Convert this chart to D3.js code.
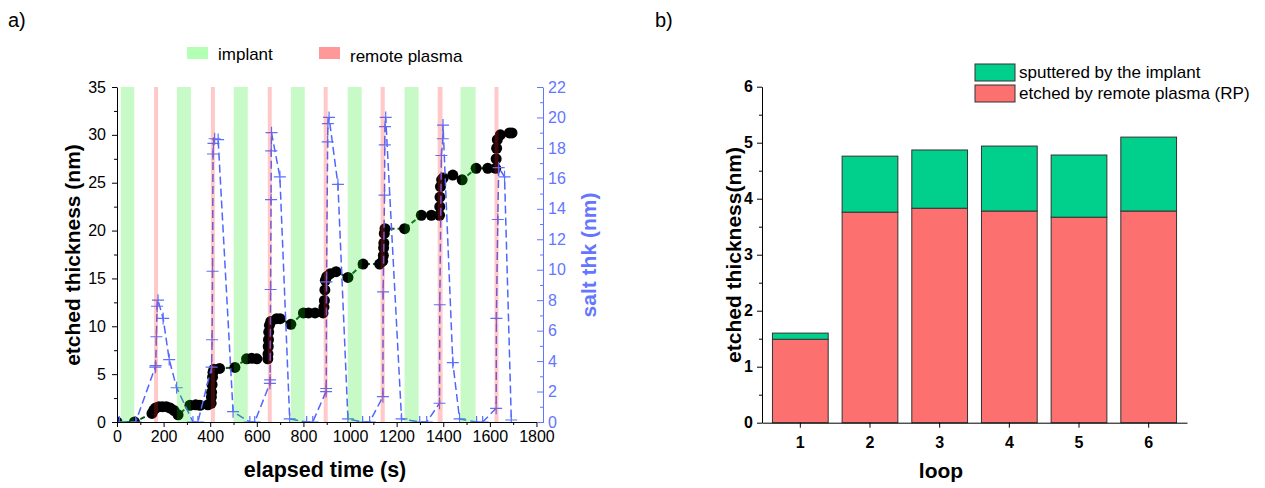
<!DOCTYPE html>
<html>
<head>
<meta charset="utf-8">
<script src="https://cdn.jsdelivr.net/npm/d3@7"></script>
<style>
  body { margin: 0; background: #fff; }
  svg { display: block; }
  text { font-family: Arial, "Liberation Sans", sans-serif; }
</style>
</head>
<body>
<div id="chart"></div>
<script>
// ---- panel a) data ----
const etchTime = [0, 75, 150, 158, 165, 180, 195, 212, 228, 245, 262,
  313, 338, 356, 390, 404, 405, 406, 408, 410, 412, 416, 440,
  506, 556, 578, 600, 647, 648, 649, 650, 651, 654, 660, 685, 700,
  746, 800, 822, 850, 884, 888, 890, 892, 894, 900, 915, 940,
  991, 1056, 1127, 1140, 1143, 1144, 1145, 1147, 1150,
  1234, 1306, 1349, 1384, 1385, 1386, 1388, 1393, 1400, 1441,
  1481, 1541, 1591, 1625, 1627, 1629, 1632, 1645, 1684, 1695];
const etchThk = [0, 0, 0.9, 1.25, 1.45, 1.6, 1.6, 1.6, 1.45, 1.2, 0.75,
  1.75, 1.8, 1.75, 1.8, 1.95, 2.6, 3.1, 3.9, 4.7, 5.2, 5.5, 5.6,
  5.7, 6.6, 6.65, 6.6, 6.6, 7.1, 7.9, 8.6, 9.4, 10.1, 10.5, 10.8, 10.8,
  10.2, 11.4, 11.4, 11.4, 11.4, 12.0, 12.7, 13.8, 14.8, 15.2, 15.5, 15.7,
  15.1, 16.5, 16.5, 16.8, 17.4, 18.2, 18.7, 19.7, 20.2,
  20.2, 21.6, 21.6, 21.6, 22.5, 23.5, 24.6, 25.3, 25.5, 25.8,
  25.3, 26.5, 26.5, 26.5, 27.5, 28.6, 29.5, 30.0, 30.2, 30.2];

const saltTime = [10, 80, 164, 166, 169, 172, 176, 198, 224, 256, 326, 347,
  406, 408, 410, 412, 414, 419, 434, 498, 570, 591,
  656, 657, 659, 661, 662, 663, 699, 741, 814, 840,
  897, 898, 899, 904, 905, 910, 948, 991, 1054, 1084,
  1141, 1142, 1148, 1149, 1150, 1153, 1221, 1299, 1329,
  1384, 1385, 1392, 1398, 1399, 1441, 1470, 1543, 1569,
  1627, 1628, 1634, 1638, 1663, 1692];
const saltThk = [0, 0, 3.6, 3.7, 5.6, 7.6, 8.0, 6.8, 4.1, 2.25, 0, 0,
  3.6, 5.4, 9.9, 17.6, 18.3, 18.6, 18.55, 0.68, 0, 0,
  2.54, 2.76, 8.7, 14.6, 17.8, 19.0, 16.1, 0.2, 0, 0,
  2.0, 2.2, 9.2, 18.4, 19.6, 20.0, 15.6, 0.2, 0, 0,
  1.66, 8.55, 14.9, 18.2, 19.4, 20.0, 0.2, 0, 0,
  1.23, 7.7, 17.5, 18.6, 19.5, 3.9, 0.2, 0, 0,
  0.9, 6.8, 13.3, 16.7, 16.1, 0.13];

const implantStart = [16, 257, 501, 746, 990, 1234, 1474];
const implantEnd   = [74, 317, 561, 806, 1050, 1294, 1539];
const plasmaStart  = [159, 403, 647, 887, 1131, 1376, 1620];
const plasmaEnd    = [176, 420, 664, 904, 1149, 1397, 1637];

const timeTicks = [0, 200, 400, 600, 800, 1000, 1200, 1400, 1600, 1800];
const thkTicks = [0, 5, 10, 15, 20, 25, 30, 35];
const saltTicks = [0, 2, 4, 6, 8, 10, 12, 14, 16, 18, 20, 22];

// ---- panel b) data ----
const loops = ["1", "2", "3", "4", "5", "6"];
const rpEtch = [1.49, 3.76, 3.83, 3.78, 3.67, 3.78];
const implantSputter = [0.11, 1.0, 1.04, 1.16, 1.11, 1.32];
const barTicks = [0, 1, 2, 3, 4, 5, 6];

const blue = "#6475ff";
const fmt = d3.format("d");

const svg = d3.select("#chart")
              .append("svg")
              .attr("width", 1265)
              .attr("height", 488);

// panel labels
svg.append("text").attr("x", 8).attr("y", 27)
   .attr("font-family", "'Liberation Serif', 'Times New Roman', serif")
   .attr("font-size", 20).text("a)");
svg.append("text").attr("x", 655).attr("y", 27)
   .attr("font-family", "'Liberation Serif', 'Times New Roman', serif")
   .attr("font-size", 20).text("b)");

// ================= panel a =================
const x = d3.scaleLinear().domain([0, 1828]).range([117, 543]);
const y = d3.scaleLinear().domain([0, 35]).range([422, 87]);
const y2 = d3.scaleLinear().domain([0, 22]).range([422, 87]);

svg.append("clipPath").attr("id", "clipA")
   .append("rect").attr("x", 117).attr("y", 80).attr("width", 426).attr("height", 342);

const plot = svg.append("g").attr("clip-path", "url(#clipA)");

const etch = d3.zip(etchTime, etchThk);
const salt = d3.zip(saltTime, saltThk);

// etched thickness: dashed line + filled circles
plot.append("path")
    .datum(etch)
    .attr("fill", "none")
    .attr("stroke", "#0f5a1a")
    .attr("stroke-width", 2)
    .attr("stroke-dasharray", "5,3")
    .attr("d", d3.line().x(d => x(d[0])).y(d => y(d[1])));

plot.selectAll(".dot")
    .data(etch)
    .join("circle")
    .attr("class", "dot")
    .attr("cx", d => x(d[0]))
    .attr("cy", d => y(d[1]))
    .attr("r", 5.5)
    .attr("fill", "#000");

// salt thickness: dashed blue line + plus markers
plot.append("path")
    .datum(salt)
    .attr("fill", "none")
    .attr("stroke", "#4f66ff")
    .attr("stroke-width", 1.5)
    .attr("stroke-dasharray", "8,4")
    .attr("d", d3.line().x(d => x(d[0])).y(d => y2(d[1])));

plot.selectAll(".plus")
    .data(salt)
    .join("path")
    .attr("class", "plus")
    .attr("d", d => {
      const cx = x(d[0]), cy = y2(d[1]);
      return `M${cx - 6},${cy}H${cx + 6}M${cx},${cy - 6}V${cy + 6}`;
    })
    .attr("stroke", "#5b70ff")
    .attr("stroke-width", 1.2);

// process bands drawn on top, translucent
plot.selectAll(".implant")
    .data(d3.zip(implantStart, implantEnd))
    .join("rect")
    .attr("class", "implant")
    .attr("x", d => x(d[0]))
    .attr("width", d => x(d[1]) - x(d[0]))
    .attr("y", y(35))
    .attr("height", y(0) - y(35))
    .attr("fill", "#00e600")
    .attr("fill-opacity", 0.22);

plot.selectAll(".plasma")
    .data(d3.zip(plasmaStart, plasmaEnd))
    .join("rect")
    .attr("class", "plasma")
    .attr("x", d => x(d[0]))
    .attr("width", d => x(d[1]) - x(d[0]))
    .attr("y", y(35))
    .attr("height", y(0) - y(35))
    .attr("fill", "#ff2828")
    .attr("fill-opacity", 0.25);

// axes
svg.append("g")
   .attr("transform", "translate(0,422)")
   .call(d3.axisBottom(x).tickValues(d3.range(100, 1800, 200)).tickSize(3).tickFormat("").tickSizeOuter(0))
   .call(g => g.select(".domain").remove());
svg.append("g")
   .attr("transform", "translate(0,422)")
   .attr("color", "#000")
   .call(d3.axisBottom(x).tickValues(timeTicks).tickFormat(fmt).tickSize(5).tickSizeOuter(0).tickPadding(4))
   .call(g => g.selectAll("text").attr("font-size", 16).attr("font-family", "Arial, 'Liberation Sans', sans-serif"));

svg.append("g")
   .attr("transform", "translate(117,0)")
   .call(d3.axisLeft(y).tickValues(d3.range(2.5, 35, 5)).tickSize(3).tickFormat(""))
   .call(g => g.select(".domain").remove());
svg.append("g")
   .attr("transform", "translate(117,0)")
   .attr("color", "#000")
   .call(d3.axisLeft(y).tickValues(thkTicks).tickFormat(fmt).tickSize(5).tickSizeOuter(0).tickPadding(6))
   .call(g => g.selectAll("text").attr("font-size", 16).attr("font-family", "Arial, 'Liberation Sans', sans-serif"));

svg.append("g")
   .attr("transform", "translate(543,0)")
   .attr("color", blue)
   .call(d3.axisRight(y2).tickValues(d3.range(1, 22, 2)).tickSizeInner(-3).tickSizeOuter(0).tickFormat(""))
   .call(g => g.select(".domain").remove());
svg.append("g")
   .attr("transform", "translate(543,0)")
   .attr("color", blue)
   .call(d3.axisRight(y2).tickValues(saltTicks).tickFormat(fmt).tickSizeInner(-6).tickSizeOuter(0).tickPadding(5))
   .call(g => g.selectAll("text").attr("font-size", 16).attr("font-family", "Arial, 'Liberation Sans', sans-serif"));

// axis titles
svg.append("text")
   .attr("transform", "translate(80,255) rotate(-90)")
   .attr("text-anchor", "middle")
   .attr("font-size", 21).attr("font-weight", "bold")
   .text("etched thickness (nm)");

svg.append("text")
   .attr("transform", "translate(596,255) rotate(-90)")
   .attr("text-anchor", "middle")
   .attr("font-size", 21).attr("font-weight", "bold")
   .attr("fill", blue)
   .text("salt thk (nm)");

svg.append("text")
   .attr("x", 325).attr("y", 477)
   .attr("text-anchor", "middle")
   .attr("font-size", 21.5).attr("font-weight", "bold")
   .text("elapsed time (s)");

// legend a
const legA = [
  { label: "implant", color: "#b3ffb3", x: 187, ty: 60 },
  { label: "remote plasma", color: "#ff9999", x: 319, ty: 62 }
];
legA.forEach(l => {
  svg.append("rect").attr("x", l.x).attr("y", 47).attr("width", 21).attr("height", 12).attr("fill", l.color);
  svg.append("text").attr("x", l.x + 31).attr("y", l.ty).attr("font-size", 17).text(l.label);
});

// ================= panel b =================
const xb = d3.scaleBand().domain(loops).range([762, 1187]).paddingInner(0.2).paddingOuter(0.15);
const yb = d3.scaleLinear().domain([0, 6]).range([422.7, 86.7]);

const table = loops.map((k, i) => ({ loop: k, rp: rpEtch[i], implant: implantSputter[i] }));
const stacked = d3.stack().keys(["rp", "implant"])(table);
const barColors = { rp: "#fd7070", implant: "#00d08c" };

svg.selectAll(".layer")
   .data(stacked)
   .join("g")
   .attr("class", "layer")
   .attr("fill", s => barColors[s.key])
   .selectAll("rect")
   .data(s => s)
   .join("rect")
   .attr("x", d => xb(d.data.loop))
   .attr("width", xb.bandwidth())
   .attr("y", d => yb(d[1]))
   .attr("height", d => yb(d[0]) - yb(d[1]))
   .attr("stroke", "#333")
   .attr("stroke-width", 1);

svg.append("g")
   .attr("transform", "translate(762,0)")
   .call(d3.axisLeft(yb).tickValues(d3.range(0.5, 6, 1)).tickSize(3).tickFormat(""))
   .call(g => g.select(".domain").remove());
svg.append("g")
   .attr("transform", "translate(762,0)")
   .attr("color", "#000")
   .call(d3.axisLeft(yb).tickValues(barTicks).tickFormat(fmt).tickSize(5).tickSizeOuter(0).tickPadding(4))
   .call(g => g.selectAll("text").attr("font-size", 16).attr("font-weight", "bold")
                .attr("font-family", "Arial, 'Liberation Sans', sans-serif"));

svg.append("g")
   .attr("transform", "translate(0,422.7)")
   .attr("color", "#000")
   .call(d3.axisBottom(xb).tickSize(5).tickSizeOuter(0).tickPadding(9))
   .call(g => g.selectAll("text").attr("font-size", 16).attr("font-weight", "bold")
                .attr("font-family", "Arial, 'Liberation Sans', sans-serif"));

svg.append("text")
   .attr("transform", "translate(741,255) rotate(-90)")
   .attr("text-anchor", "middle")
   .attr("font-size", 21).attr("font-weight", "bold")
   .text("etched thickness(nm)");

svg.append("text")
   .attr("x", 941).attr("y", 478)
   .attr("text-anchor", "middle")
   .attr("font-size", 21).attr("font-weight", "bold")
   .text("loop");

// legend b
const legB = [
  { label: "sputtered by the implant", color: barColors.implant, y: 64 },
  { label: "etched by remote plasma (RP)", color: barColors.rp, y: 85 }
];
legB.forEach(l => {
  svg.append("rect").attr("x", 975).attr("y", l.y).attr("width", 40).attr("height", 17)
     .attr("fill", l.color).attr("stroke", "#333").attr("stroke-width", 1);
  svg.append("text").attr("x", 1019).attr("y", l.y + 14).attr("font-size", 17).text(l.label);
});
</script>
</body>
</html>
